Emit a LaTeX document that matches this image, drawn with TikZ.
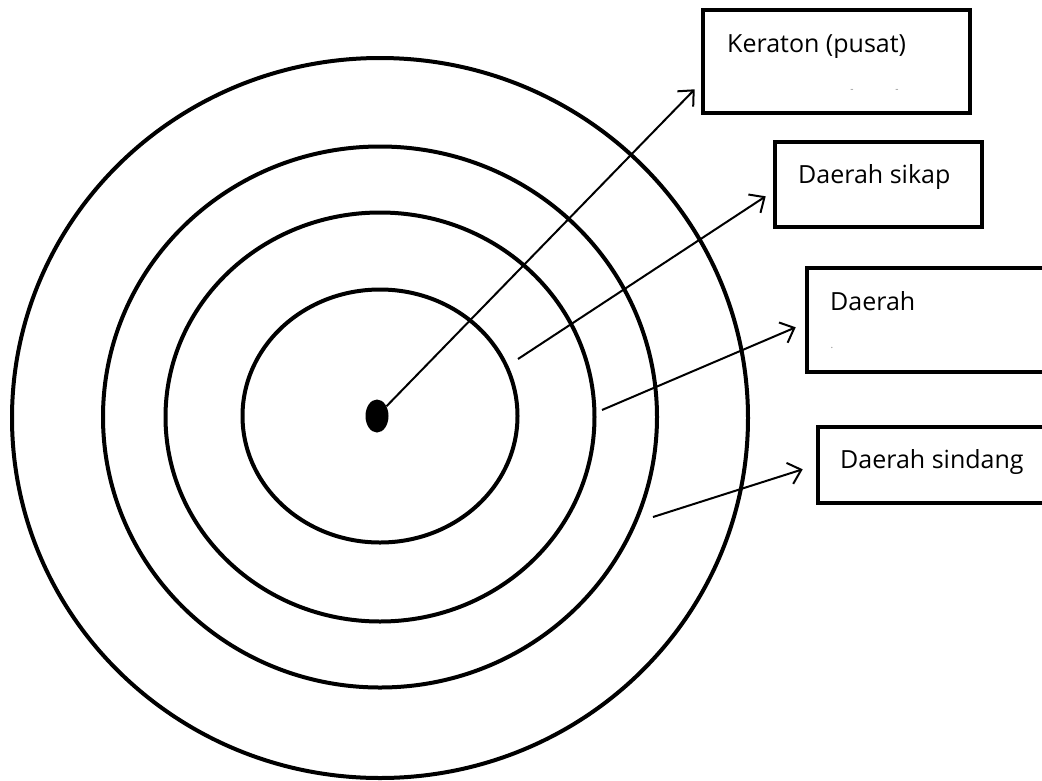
\documentclass[tikz,border=0pt]{standalone}
\usepackage{fontspec}
\setmainfont{Open Sans}
\usetikzlibrary{shapes.geometric,arrows.meta}
\begin{document}
\begin{tikzpicture}[x=1pt,y=-1pt,
  ring/.style={draw, line width=4pt, ellipse, inner sep=0pt},
  box/.style={draw, line width=4.6pt, rectangle, inner sep=0pt},
  lbl/.style={anchor=base west, inner sep=0pt, font=\fontsize{25}{30}\selectfont},
  speck/.style={anchor=center, inner sep=0pt, text=black!45, font=\fontsize{10}{12}\selectfont},
  conn/.style={line width=2pt, -{Straight Barb[length=12pt,width=22pt]}}]
\useasboundingbox (0,0) rectangle (1042,780);
\clip (0,0) rectangle (1042,780);
% rings
\node[ring, minimum width=736pt, minimum height=720pt] (r4) at (380,418) {};
\node[ring, minimum width=554pt, minimum height=541pt] (r3) at (380,417) {};
\node[ring, minimum width=429pt, minimum height=409pt] (r2) at (380,417) {};
\node[ring, minimum width=275pt, minimum height=253pt] (r1) at (380,416) {};
\node[ellipse, fill=black, inner sep=0pt, minimum width=23pt, minimum height=33pt] (dot) at (377,416) {};
% boxes
\node[box, minimum width=267pt, minimum height=103pt] (k) at (836.5,61.5) {};
\node[box, minimum width=207pt, minimum height=85pt] (s) at (878.5,184.5) {};
\node[box, minimum width=253pt, minimum height=104pt] (d) at (933.5,320) {};
\node[box, minimum width=242pt, minimum height=76pt] (g) at (939,465) {};
% labels
\node[lbl] (kt) at (727,52) {Keraton (pusat)};
\node[lbl] (st) at (798,183) {Daerah sikap};
\node[lbl] (dt) at (830,310) {Daerah};
\node[lbl] (gt) at (840,468) {Daerah sindang};
\node[speck] (k1) at (852,91) {-};
\node[speck] (k2) at (897,91) {-};
\node[speck] (d1) at (832,348) {.};
% connector start points
\coordinate (a2) at (518,359);
\coordinate (a3) at (602,410);
\coordinate (a4) at (653,517);
% connectors
\draw[conn] (dot) -- ([xshift=-6pt,yshift=26pt]k.south west);
\draw[conn] (a2) -- ([xshift=-7pt,yshift=33pt]s.south west);
\draw[conn] (a3) -- ([xshift=-9pt,yshift=47pt]d.south west);
\draw[conn] (a4) -- ([xshift=-13pt,yshift=36pt]g.south west);
\end{tikzpicture}
\end{document}
